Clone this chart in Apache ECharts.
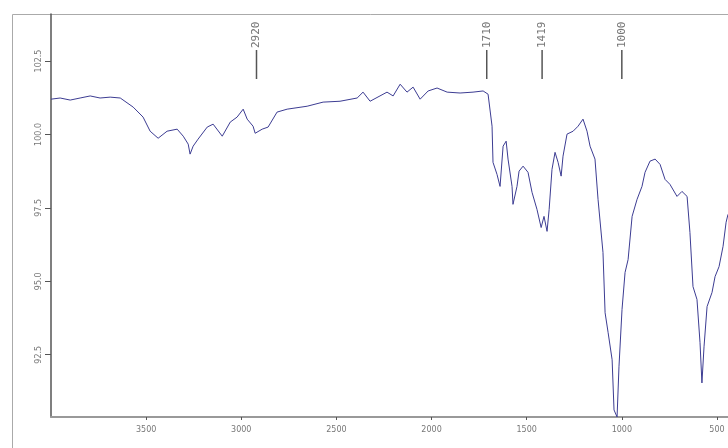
<!DOCTYPE html>
<html><head><meta charset="utf-8">
<script src="https://cdn.jsdelivr.net/npm/echarts@6/dist/echarts.min.js"></script>
<style>html,body{margin:0;padding:0;background:#fff}#c{width:728px;height:448px}</style>
</head><body><div id="c"></div>
<script>
// wavenumber (cm-1) and transmittance (%)
const wavenumbers = [4000,3952,3899,3847,3794,3742,3689,3636,3568,3516,3479,3437,3390,3337,3305,3279,3269,3253,3227,3179,3148,3100,3058,3022,2990,2969,2938,2927,2890,2859,2812,2759,2654,2570,2481,2391,2360,2323,2234,2202,2165,2129,2097,2060,2018,1971,1918,1850,1782,1729,1703,1682,1677,1656,1640,1624,1608,1598,1577,1572,1551,1540,1519,1493,1472,1446,1424,1409,1393,1382,1367,1351,1335,1319,1309,1288,1256,1230,1204,1183,1167,1141,1125,1099,1088,1072,1051,1041,1025,1015,999,983,967,946,920,894,878,852,825,799,773,747,710,684,657,642,626,605,589,579,568,552,526,510,489,468,452,442];
const transmittance = [101.20,101.24,101.17,101.24,101.31,101.24,101.27,101.24,100.93,100.59,100.11,99.87,100.11,100.18,99.94,99.67,99.33,99.60,99.84,100.25,100.35,99.94,100.42,100.59,100.86,100.52,100.28,100.04,100.18,100.25,100.76,100.86,100.96,101.10,101.13,101.24,101.44,101.13,101.44,101.31,101.71,101.44,101.61,101.20,101.48,101.58,101.44,101.41,101.44,101.48,101.37,100.28,99.05,98.64,98.23,99.60,99.77,99.16,98.23,97.62,98.23,98.75,98.92,98.71,98.03,97.45,96.83,97.21,96.70,97.45,98.81,99.39,99.05,98.58,99.26,100.01,100.11,100.28,100.52,100.11,99.60,99.16,97.79,95.98,93.93,93.25,92.33,90.62,90.38,92.09,94.04,95.30,95.74,97.21,97.79,98.23,98.71,99.09,99.16,98.98,98.47,98.30,97.89,98.06,97.89,96.66,94.82,94.38,92.91,91.54,92.77,94.14,94.62,95.16,95.50,96.19,97.01,97.28];
const xTicks = [3500,3000,2500,2000,1500,1000,500];
const yTicks = [92.5,95.0,97.5,100.0,102.5];
const peakWn = [2920,1710,1419,1000];
const peakLabels = ['2920','1710','1419','1000'];

const chart = echarts.init(document.getElementById('c'), null, {renderer:'canvas'});
const lbl = {fontFamily:'DejaVu Sans', fontSize:8, color:'#777'};
chart.setOption({
  animation:false,
  backgroundColor:'#fff',
  grid:{left:51, right:0, top:14, bottom:31},
  graphic:[{type:'rect', shape:{x:12.5,y:14.5,width:800,height:500}, style:{fill:'none', stroke:'#aaa', lineWidth:1}, z:0}],
  xAxis:{type:'value', inverse:true, min:442, max:4000,
    axisLine:{show:true, lineStyle:{color:'#999', width:2}},
    axisTick:{show:true, length:3, lineStyle:{color:'#555'}, customValues:xTicks},
    axisLabel:Object.assign({margin:9, customValues:xTicks, formatter:v=>String(v)}, lbl),
    splitLine:{show:false}},
  yAxis:{type:'value', min:90.38, max:104.1,
    axisLine:{show:true, lineStyle:{color:'#555', width:1.5}},
    axisTick:{show:true, length:6, lineStyle:{color:'#555'}, customValues:yTicks},
    axisLabel:Object.assign({margin:8, rotate:90, customValues:yTicks, formatter:v=>v.toFixed(1)}, lbl),
    splitLine:{show:false}},
  series:[
    {type:'line', data:wavenumbers.map((w,i)=>[w, transmittance[i]]), showSymbol:false,
     lineStyle:{color:'#3c3c92', width:1}, clip:true},
    {type:'custom', clip:false, data:peakWn.map((w,i)=>[w, 104, i]),
     renderItem:(params, api)=>{
       const p = api.coord([api.value(0), api.value(1)]);
       const i = api.value(2);
       return {type:'group', children:[
         {type:'line', shape:{x1:p[0], y1:50, x2:p[0], y2:79}, style:{stroke:'#555', lineWidth:1.5}},
         {type:'text', x:p[0], y:48, rotation:Math.PI/2,
          style:{text:peakLabels[i], textAlign:'left', textVerticalAlign:'middle', fontFamily:'DejaVu Sans Mono', fontSize:11, fill:'#777'}}
       ]};
     }}
  ]
});
</script></body></html>
